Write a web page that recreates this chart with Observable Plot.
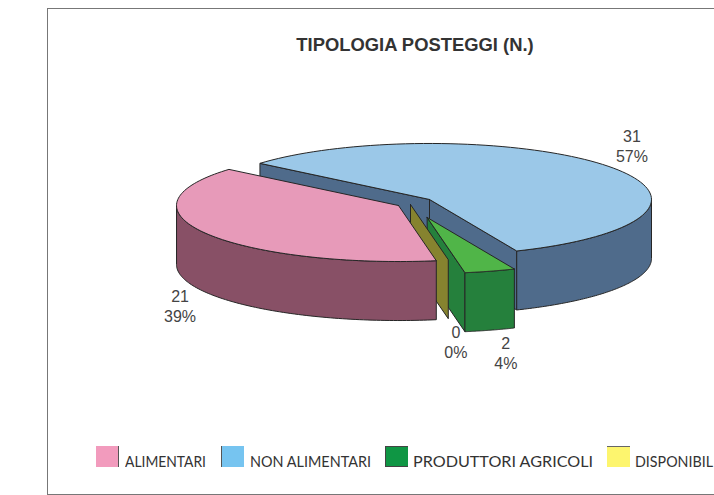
<!DOCTYPE html>
<html><head><meta charset="utf-8">
<script src="https://cdn.jsdelivr.net/npm/d3@7"></script>
<script src="https://cdn.jsdelivr.net/npm/@observablehq/plot@0.6"></script>
<style>
html,body{margin:0;padding:0;background:#fff;overflow:hidden}
#page{position:relative;width:714px;height:495px;overflow:hidden;font-family:"Liberation Sans",Arial,sans-serif}
#frame{position:absolute;left:47px;top:7.5px;width:700px;height:485px;border:1.5px solid #777;box-sizing:content-box}
#title{position:absolute;left:215px;width:400px;top:35px;text-align:center;font-weight:bold;font-size:18.4px;line-height:20px;color:#333}
#chart{position:absolute;left:0;top:0}
.sw{position:absolute;top:446px;width:23px;height:21px;box-sizing:border-box}
.lg{position:absolute;top:453px;font-family:"Lato",sans-serif;font-size:15px;line-height:16px;color:#333;white-space:nowrap;transform-origin:0 50%}
</style></head><body>
<div id="page"><div id="frame"></div><div id="title">TIPOLOGIA POSTEGGI (N.)</div><div id="chart"></div><div id="legend"></div></div>
<script>
// Data, in pie drawing order (clockwise from the back-left cut)
const categories = ["NON ALIMENTARI", "PRODUTTORI AGRICOLI", "DISPONIBILI", "ALIMENTARI"];
const values = [31, 2, 0, 21];
const topColors = ["#9bc8e8", "#50b548", "#86832f", "#e79ab9"];
const wallColors = ["#4f6b8b", "#25803c", "#86832f", "#885066"];

// Legend
const legendLabels = ["ALIMENTARI", "NON ALIMENTARI", "PRODUTTORI AGRICOLI", "DISPONIBIL"];
const legendColors = ["#f29bbd", "#76c4f0", "#0f9644", "#fdf56e"];
const legendBorders = ["border-right:1.5px solid #555", "border-left:1.5px solid #555", "border:1.5px solid #444;border-right:none", "border-top:1.5px solid #666"];
const legendSwatchX = [96, 221, 385, 607];
const legendTextX = [125, 250, 413, 635];
const legendTextW = [81, 121, 180, 78];

// Layout of the pie, in radius units
const shiftX = [0.0676, 0.057, -0.018, -0.072];
const shiftY = [-0.054, 0.268, 0.036, 0.054];
const labelRadius = [1.134, 1.25, 1.2, 1.134];
const labelExtraY = [-0.29, 0.16, 0.21, 0.17];
const depth = 59 / 56;
const startDeg = 310.2;
const W = 714, H = 495, rx = 222, ry = 56, cx = 414, cy = 202;

const TAU = 2 * Math.PI;
const total = d3.sum(values);
const arcs = d3.pie().sort(null)
  .startAngle(startDeg * Math.PI / 180).endAngle((startDeg + 360) * Math.PI / 180)(values);

const rim = (a0, a1, n = 90) => d3.range(n + 1).map(i => {
  const t = a0 + (a1 - a0) * i / n;
  return [Math.cos(t), Math.sin(t)];
});
const slices = arcs.map((arc, i) => {
  let a0 = arc.startAngle - Math.PI / 2, a1 = arc.endAngle - Math.PI / 2;
  if (a0 >= TAU) { a0 -= TAU; a1 -= TAU; }
  return {i, a0, a1, ox: shiftX[i], oy: shiftY[i]};
});
const poly = (s, pts) => {
  const p = pts.map(([x, y]) => ({x: x + s.ox, y: y + s.oy}));
  p.push(p[0]);
  return p;
};
const sideWall = (a0, a1) => {
  const e = rim(a0, a1);
  return [...e, ...e.slice().reverse().map(([x, y]) => [x, y + depth])];
};
const cutWall = a => {
  const [x, y] = [Math.cos(a), Math.sin(a)];
  return [[0, 0], [x, y], [x, y + depth], [0, depth]];
};
const topFace = s => [[0, 0], ...rim(s.a0, s.a1)];

const marks = [];
const outline = {stroke: "#262626", strokeWidth: 1, strokeLinejoin: "round", curve: "linear"};
const add = (s, pts, fill) => marks.push(Plot.line(poly(s, pts), {x: "x", y: "y", fill, ...outline}));

function drawSlice(s) {
  const i = s.i;
  if (values[i] === 0) { // empty slice shows only its thin wall
    add(s, cutWall(s.a0), wallColors[i]);
    return;
  }
  if (s.a1 > TAU) { // large back slice: both cuts visible, then its right-hand rim
    add(s, cutWall(s.a0), wallColors[i]);
    add(s, cutWall(s.a1), wallColors[i]);
    add(s, sideWall(TAU, s.a1), wallColors[i]);
  } else if (s.a1 < Math.PI / 2) { // small front-right slice
    add(s, cutWall(s.a1), wallColors[i]);
    add(s, sideWall(s.a0, s.a1), wallColors[i]);
  } else {
    add(s, sideWall(s.a0, Math.PI), wallColors[i]);
  }
  add(s, topFace(s), topColors[i]);
}
// Back-to-front: blue, green, olive, pink
slices.forEach(drawSlice);

const labels = slices.map(s => {
  const mid = (s.a0 + s.a1) / 2, sin = Math.sin(mid), r = labelRadius[s.i];
  return {
    x: s.ox + Math.cos(mid) * r,
    y: s.oy + sin * r + (sin > 0 ? depth : 0) + labelExtraY[s.i],
    text: `${values[s.i]}\n${Math.round(values[s.i] / total * 100)}%`
  };
});
marks.push(Plot.text(labels, {x: "x", y: "y", text: "text", fontSize: 16, lineHeight: 1.25,
  fill: "#444", fontFamily: "Liberation Sans, Arial, sans-serif"}));

const plot = Plot.plot({
  width: W, height: H, margin: 0,
  x: {domain: [-cx / rx, (W - cx) / rx], range: [0, W], axis: null},
  y: {domain: [-cy / ry, (H - cy) / ry], range: [0, H], axis: null},
  style: {background: "transparent"},
  marks
});
document.getElementById("chart").append(plot);

const lg = document.getElementById("legend");
legendLabels.forEach((t, i) => {
  const s = document.createElement("div");
  s.className = "sw";
  s.style.cssText = `left:${legendSwatchX[i]}px;background:${legendColors[i]};${legendBorders[i]}`;
  lg.append(s);
  const l = document.createElement("div");
  l.className = "lg";
  l.style.left = legendTextX[i] + "px";
  l.textContent = t;
  lg.append(l);
  l.style.transform = `scaleX(${legendTextW[i] / l.getBoundingClientRect().width})`;
});
</script></body></html>
